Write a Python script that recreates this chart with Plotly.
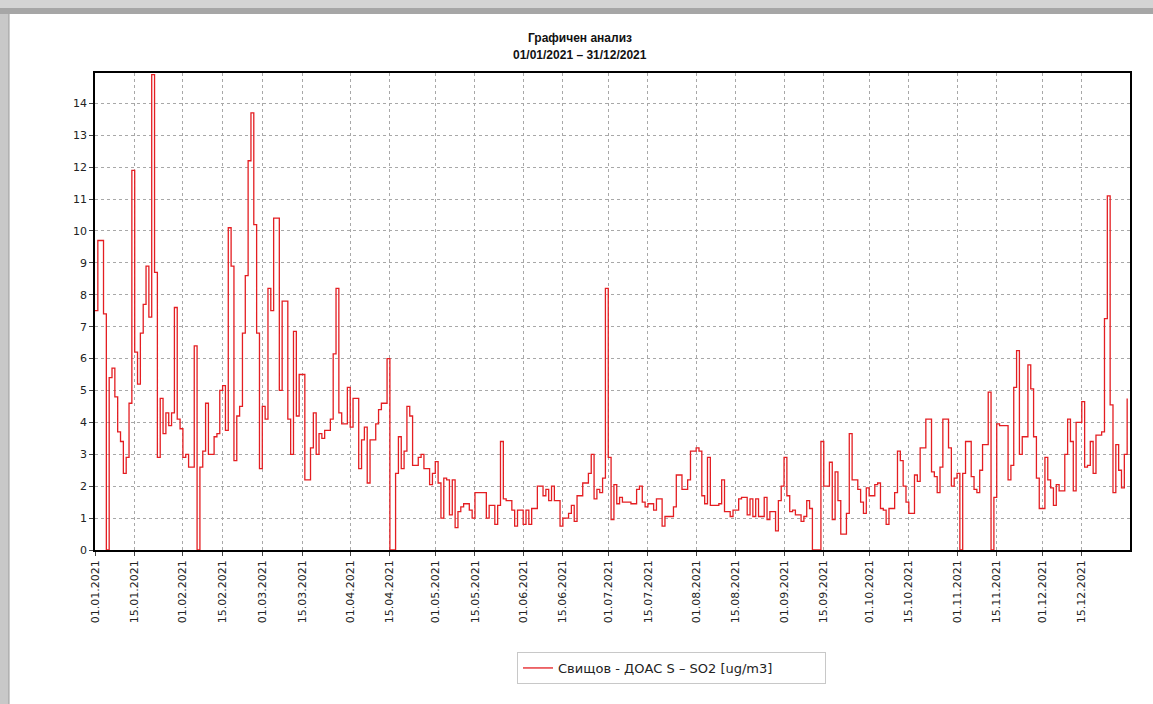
import pandas as pd
import plotly.graph_objects as go

# Daily SO2 values (ug/m3), 2021
jan = [7.5, 9.7, 9.7, 7.4, 0, 5.4, 5.7, 4.8, 3.7, 3.4, 2.4, 2.9, 4.6, 11.9, 6.2, 5.2,
       6.8, 7.7, 8.9, 7.3, 14.9, 8.7, 2.9, 4.75, 3.65, 4.3, 3.9, 4.3, 7.6, 4.1, 3.8]
feb = [2.9, 3.0, 2.6, 2.6, 6.4, 0, 2.6, 3.1, 4.6, 3.0, 3.0, 3.55, 3.65, 5.0, 5.15,
       3.75, 10.1, 8.9, 2.8, 4.2, 4.5, 6.8, 8.6, 12.2, 13.7, 10.2, 6.8, 2.55]
mar = [4.5, 4.1, 8.2, 7.5, 10.4, 10.4, 5.0, 7.8, 7.8, 4.1, 3.0, 6.85, 4.2, 5.5, 5.5,
       2.2, 2.2, 3.2, 4.3, 3.0, 3.65, 3.5, 3.75, 3.75, 4.1, 6.15, 8.2, 4.3, 3.95, 3.95, 5.1]
apr = [3.85, 4.75, 4.75, 2.55, 3.45, 3.85, 2.1, 3.45, 3.45, 3.95, 4.4, 4.6, 4.6, 6.0,
       0, 0, 2.4, 3.55, 2.55, 3.1, 4.5, 4.2, 2.65, 2.65, 2.9, 3.0, 2.55, 2.55, 2.05, 2.4]
may = [2.77, 2.1, 1.0, 2.25, 2.2, 1.1, 2.2, 0.7, 1.2, 1.35, 1.45, 1.45, 1.25, 1.0, 1.8,
       1.8, 1.8, 1.8, 1.0, 1.4, 1.4, 0.8, 1.4, 3.4, 1.6, 1.55, 1.55, 1.25, 0.75, 1.25, 1.25]
jun = [0.8, 1.25, 0.8, 1.3, 1.3, 2.0, 2.0, 1.7, 1.9, 1.55, 2.0, 1.55, 1.55, 0.75, 1.0,
       1.0, 1.15, 1.4, 0.9, 1.7, 1.7, 2.1, 2.1, 2.4, 3.0, 1.6, 1.9, 1.8, 2.25, 8.2]
jul = [2.9, 0.95, 2.05, 1.45, 1.65, 1.5, 1.5, 1.5, 1.45, 1.45, 1.9, 2.0, 1.5, 1.35, 1.45,
       1.45, 1.25, 1.6, 1.6, 0.75, 1.05, 1.05, 1.05, 1.35, 2.35, 2.35, 1.9, 1.9, 2.2, 3.1, 3.1]
aug = [3.2, 3.1, 1.7, 1.45, 2.9, 1.4, 1.4, 1.4, 1.45, 2.2, 1.2, 1.2, 1.05, 1.25, 1.25,
       1.6, 1.65, 1.65, 1.1, 1.6, 1.05, 1.6, 1.05, 1.05, 1.65, 0.95, 1.2, 1.2, 0.6, 1.55, 2.0]
sep = [2.9, 1.7, 1.2, 1.25, 1.1, 1.1, 0.9, 1.05, 1.55, 1.3, 0, 0, 0, 3.4, 2.0, 2.0, 2.75,
       0.95, 2.45, 1.55, 0.5, 0.5, 1.15, 3.65, 2.2, 2.2, 1.9, 1.5, 1.15, 1.95]
oct_ = [1.7, 1.7, 2.05, 2.1, 1.3, 1.25, 0.8, 1.3, 1.3, 1.8, 3.1, 2.8, 2.0, 1.5, 1.15, 1.15,
        2.35, 2.15, 3.2, 3.2, 4.1, 4.1, 2.45, 2.3, 1.8, 2.6, 4.1, 4.1, 3.2, 2.0, 2.25]
nov = [2.4, 0, 2.4, 3.4, 3.4, 2.3, 1.9, 1.8, 2.5, 3.3, 3.3, 4.95, 0, 1.65, 3.95, 3.9, 3.9,
       3.9, 2.2, 2.65, 5.1, 6.25, 3.0, 3.55, 3.55, 5.8, 5.05, 3.55, 2.25, 1.3]
dec = [1.3, 2.9, 2.2, 1.95, 1.4, 2.05, 1.85, 1.85, 3.0, 4.1, 3.4, 1.85, 4.0, 4.0, 4.65,
       2.6, 2.65, 3.4, 2.4, 3.6, 3.6, 3.7, 7.25, 11.1, 4.55, 1.8, 3.3, 2.5, 1.95, 3.0, 4.75]

tick_labels = ["01.01.2021", "15.01.2021", "01.02.2021", "15.02.2021", "01.03.2021",
               "15.03.2021", "01.04.2021", "15.04.2021", "01.05.2021", "15.05.2021",
               "01.06.2021", "15.06.2021", "01.07.2021", "15.07.2021", "01.08.2021",
               "15.08.2021", "01.09.2021", "15.09.2021", "01.10.2021", "15.10.2021",
               "01.11.2021", "15.11.2021", "01.12.2021", "15.12.2021"]
y_ticks = list(range(0, 15))

series_name = "Свищов - ДОАС S – SO2 [ug/m3]"
title_line1 = "Графичен анализ"
title_line2 = "01/01/2021 – 31/12/2021"

values = jan + feb + mar + apr + may + jun + jul + aug + sep + oct_ + nov + dec
dates = pd.date_range("2021-01-01", periods=len(values), freq="D")
tick_vals = [pd.to_datetime(t, format="%d.%m.%Y") for t in tick_labels]

W, H = 1153, 704
L, R, T, B = 95, 23, 73, 154
pw, ph = W - L - R, H - T - B


def px_x(px):
    return (px - L) / pw


def px_y(py):
    return (H - B - py) / ph


fig = go.Figure()
fig.add_trace(go.Scatter(
    x=dates, y=values, mode="lines", name=series_name,
    line=dict(shape="hv", color="#e41e22", width=1.3),
    showlegend=True,
))

axis_font = dict(family="DejaVu Sans, Verdana, sans-serif", size=11, color="#222")
grid_style = dict(showgrid=True, gridcolor="#a8a8a8", griddash="3px,3px", gridwidth=1)
fig.update_xaxes(
    range=["2021-01-01", "2022-01-01"],
    tickvals=tick_vals, ticktext=tick_labels, tickangle=-90,
    tickfont=axis_font, ticks="outside", ticklen=4, tickcolor="#444",
    showline=True, linecolor="black", linewidth=1.5, mirror=True,
    zeroline=False, **grid_style,
)
fig.update_yaxes(
    range=[0, 14.95], tickvals=y_ticks,
    tickfont=axis_font, ticks="outside", ticklen=4, tickcolor="#444",
    showline=True, linecolor="black", linewidth=1.5, mirror=True,
    zeroline=False, **grid_style,
)

shapes = [
    # window frame look
    dict(type="rect", xref="paper", yref="paper", x0=px_x(0), x1=px_x(W),
         y0=px_y(8), y1=px_y(0), fillcolor="#d4d4d4", line=dict(width=0), layer="below"),
    dict(type="rect", xref="paper", yref="paper", x0=px_x(0), x1=px_x(W),
         y0=px_y(14), y1=px_y(8), fillcolor="#a6a6a6", line=dict(width=0), layer="below"),
    dict(type="rect", xref="paper", yref="paper", x0=px_x(0), x1=px_x(9),
         y0=px_y(H), y1=px_y(14), fillcolor="#c8c8c8", line=dict(width=0), layer="below"),
    dict(type="line", xref="paper", yref="paper", x0=px_x(9), x1=px_x(9),
         y0=px_y(H), y1=px_y(14), line=dict(color="#9a9a9a", width=1), layer="below"),
]

annotations = [
    dict(text="<b>" + title_line1 + "</b>", xref="paper", yref="paper",
         x=px_x(580), y=px_y(38), xanchor="center", yanchor="middle", showarrow=False,
         font=dict(family="Liberation Sans, Arial, sans-serif", size=12, color="#111")),
    dict(text="<b>" + title_line2 + "</b>", xref="paper", yref="paper",
         x=px_x(580), y=px_y(55), xanchor="center", yanchor="middle", showarrow=False,
         font=dict(family="Liberation Sans, Arial, sans-serif", size=12, color="#111")),
]

fig.update_layout(
    width=W, height=H, autosize=False,
    margin=dict(l=L, r=R, t=T, b=B, pad=0),
    paper_bgcolor="white", plot_bgcolor="white",
    shapes=shapes, annotations=annotations,
    legend=dict(
        orientation="h", entrywidth=262, entrywidthmode="pixels",
        x=px_x(517), y=px_y(652), xanchor="left", yanchor="top",
        bordercolor="#c8c8c8", borderwidth=1, bgcolor="white",
        font=dict(family="DejaVu Sans, Verdana, sans-serif", size=13, color="#222"),
    ),
)

fig.write_html("out.html", config={"displayModeBar": False},
               post_script="document.body.style.margin='0';")
